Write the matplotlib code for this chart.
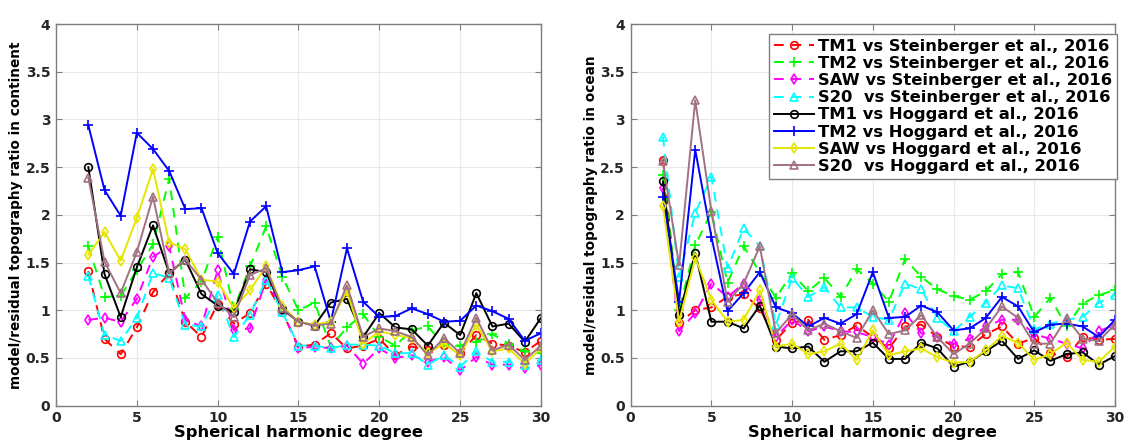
import matplotlib
matplotlib.use("Agg")
import matplotlib.pyplot as plt
import numpy as np

plt.rcParams['font.family'] = ['DejaVu Sans']
plt.rcParams['font.weight'] = 'bold'

degrees = list(range(2, 31))

# ---- continent panel ----
cont_tm1_st = [1.41, 0.70, 0.54, 0.82, 1.19, 1.39, 0.88, 0.72, 1.07, 0.86, 0.97, 1.28, 0.98, 0.62,
               0.64, 0.76, 0.60, 0.63, 0.70, 0.53, 0.62, 0.58, 0.64, 0.55, 0.74, 0.65, 0.63, 0.56, 0.68]
cont_tm2_st = [1.67, 1.14, 1.15, 1.42, 1.69, 2.38, 1.13, 1.30, 1.77, 1.01, 1.46, 1.88, 1.35, 1.00,
               1.08, 0.62, 0.82, 0.96, 0.72, 0.63, 0.79, 0.83, 0.64, 0.63, 0.67, 0.75, 0.65, 0.57, 0.55]
cont_saw_st = [0.90, 0.92, 0.88, 1.12, 1.56, 1.67, 0.90, 0.83, 1.42, 0.79, 0.81, 1.32, 1.00, 0.60,
               0.62, 0.60, 0.63, 0.44, 0.60, 0.50, 0.53, 0.46, 0.51, 0.37, 0.51, 0.43, 0.43, 0.39, 0.43]
cont_s20_st = [1.36, 0.74, 0.68, 0.92, 1.39, 1.34, 0.85, 0.83, 1.16, 0.72, 0.95, 1.32, 0.98, 0.63,
               0.63, 0.60, 0.64, 0.64, 0.63, 0.55, 0.55, 0.43, 0.53, 0.41, 0.57, 0.46, 0.46, 0.43, 0.48]
cont_tm1_ho = [2.50, 1.38, 0.93, 1.45, 1.89, 1.39, 1.53, 1.17, 1.05, 0.98, 1.43, 1.40, 1.01, 0.88,
               0.84, 1.08, 1.12, 0.72, 0.97, 0.82, 0.80, 0.63, 0.87, 0.74, 1.18, 0.83, 0.86, 0.67, 0.92]
cont_tm2_ho = [2.94, 2.26, 1.99, 2.86, 2.69, 2.46, 2.06, 2.07, 1.60, 1.38, 1.93, 2.09, 1.40, 1.42,
               1.46, 0.88, 1.65, 1.09, 0.93, 0.94, 1.02, 0.96, 0.88, 0.89, 1.05, 0.99, 0.91, 0.68, 0.76]
cont_saw_ho = [1.58, 1.82, 1.52, 1.97, 2.48, 1.71, 1.64, 1.32, 1.30, 1.02, 1.21, 1.46, 1.04, 0.88,
               0.85, 0.88, 1.20, 0.65, 0.78, 0.74, 0.71, 0.55, 0.65, 0.53, 0.85, 0.57, 0.60, 0.44, 0.60]
cont_s20_ho = [2.39, 1.51, 1.18, 1.61, 2.19, 1.39, 1.53, 1.32, 1.08, 0.93, 1.37, 1.44, 1.02, 0.88,
               0.84, 0.86, 1.26, 0.72, 0.81, 0.78, 0.72, 0.53, 0.71, 0.55, 0.92, 0.58, 0.64, 0.48, 0.63]

# ---- ocean panel ----
ocean_tm1_st = [2.58, 0.87, 1.00, 1.03, 1.14, 1.17, 1.02, 0.69, 0.87, 0.90, 0.69, 0.74, 0.84, 0.72,
                0.60, 0.83, 0.85, 0.72, 0.62, 0.62, 0.75, 0.83, 0.65, 0.71, 0.55, 0.51, 0.72, 0.69, 0.70]
ocean_tm2_st = [2.42, 1.00, 1.68, 2.03, 1.29, 1.67, 1.40, 1.13, 1.39, 1.20, 1.34, 1.14, 1.43, 1.28,
                1.09, 1.54, 1.35, 1.22, 1.15, 1.11, 1.20, 1.38, 1.40, 0.93, 1.13, 0.83, 1.07, 1.16, 1.21]
ocean_saw_st = [2.28, 0.78, 0.97, 1.28, 1.14, 1.28, 1.11, 0.72, 0.90, 0.78, 0.83, 0.78, 0.77, 0.72,
                0.64, 0.97, 0.76, 0.72, 0.65, 0.70, 0.83, 0.90, 0.90, 0.75, 0.70, 0.65, 0.60, 0.78, 0.85]
ocean_s20_st = [2.82, 1.35, 2.02, 2.40, 1.44, 1.86, 1.67, 0.85, 1.34, 1.14, 1.24, 1.03, 1.03, 0.93,
                0.90, 1.28, 1.22, 0.92, 0.78, 0.93, 1.08, 1.26, 1.23, 0.80, 0.86, 0.90, 0.93, 1.08, 1.16]
ocean_tm1_ho = [2.35, 0.95, 1.60, 0.88, 0.88, 0.81, 1.05, 0.62, 0.60, 0.62, 0.46, 0.57, 0.57, 0.66,
                0.49, 0.49, 0.66, 0.60, 0.41, 0.46, 0.57, 0.68, 0.49, 0.58, 0.47, 0.54, 0.56, 0.43, 0.52]
ocean_tm2_ho = [2.19, 1.09, 2.68, 1.77, 0.99, 1.18, 1.40, 1.03, 0.97, 0.83, 0.92, 0.86, 0.96, 1.40,
                0.92, 0.93, 1.05, 0.98, 0.79, 0.81, 0.92, 1.14, 1.04, 0.77, 0.85, 0.86, 0.83, 0.72, 0.90]
ocean_saw_ho = [2.09, 0.88, 1.55, 1.11, 0.88, 0.90, 1.21, 0.62, 0.65, 0.54, 0.57, 0.65, 0.48, 0.79,
                0.53, 0.57, 0.60, 0.51, 0.45, 0.46, 0.58, 0.73, 0.66, 0.48, 0.54, 0.66, 0.48, 0.46, 0.62]
ocean_s20_ho = [2.56, 1.47, 3.20, 2.04, 1.09, 1.28, 1.67, 0.76, 0.96, 0.79, 0.86, 0.78, 0.71, 1.00,
                0.75, 0.79, 0.95, 0.72, 0.54, 0.65, 0.81, 1.04, 0.92, 0.65, 0.65, 0.92, 0.70, 0.68, 0.85]

labels = ["TM1 vs Steinberger et al., 2016",
          "TM2 vs Steinberger et al., 2016",
          "SAW vs Steinberger et al., 2016",
          "S20  vs Steinberger et al., 2016",
          "TM1 vs Hoggard et al., 2016",
          "TM2 vs Hoggard et al., 2016",
          "SAW vs Hoggard et al., 2016",
          "S20  vs Hoggard et al., 2016"]
colors = ['#ff0000', '#00ff00', '#ff00ff', '#00ffff', '#000000', '#0000ff', '#e6e600', '#a07282']
markers = ['o', '+', 'd', '^', 'o', '+', 'd', '^']
styles = ['--', '--', '--', '--', '-', '-', '-', '-']

xticks = [0, 5, 10, 15, 20, 25, 30]
yticks = [0, 0.5, 1, 1.5, 2, 2.5, 3, 3.5, 4]
ytick_labels = ['0', '0.5', '1', '1.5', '2', '2.5', '3', '3.5', '4']

fig = plt.figure(figsize=(11.27, 4.43), dpi=100)
ax1 = fig.add_axes([0.0497, 0.0842, 0.4303, 0.8616])
ax2 = fig.add_axes([0.5596, 0.0842, 0.4297, 0.8616])

panels = [
    (ax1, [cont_tm1_st, cont_tm2_st, cont_saw_st, cont_s20_st,
           cont_tm1_ho, cont_tm2_ho, cont_saw_ho, cont_s20_ho],
     'model/residual topography ratio in continent'),
    (ax2, [ocean_tm1_st, ocean_tm2_st, ocean_saw_st, ocean_s20_st,
           ocean_tm1_ho, ocean_tm2_ho, ocean_saw_ho, ocean_s20_ho],
     'model/residual topography ratio in ocean'),
]

for ax, series, ylab in panels:
    for vals, c, m, ls, lab in zip(series, colors, markers, styles, labels):
        ms = 5.5 if m != '+' else 7
        ax.plot(degrees, vals, linestyle=ls, color=c, marker=m, markersize=ms,
                markerfacecolor='none', markeredgecolor=c, markeredgewidth=1.2,
                linewidth=1.4, label=lab, dashes=(5, 4) if ls == '--' else (None, None))
    ax.set_xlim(0, 30)
    ax.set_ylim(0, 4)
    ax.set_xticks(xticks)
    ax.set_xticklabels([str(t) for t in xticks], fontsize=10, fontweight='bold')
    ax.set_yticks(yticks)
    ax.set_yticklabels(ytick_labels, fontsize=10, fontweight='bold')
    ax.grid(True, color='#e8e8e8', linewidth=0.8)
    ax.set_axisbelow(True)
    for sp in ax.spines.values():
        sp.set_color('#7f7f7f')
        sp.set_linewidth(1.0)
    ax.tick_params(direction='in', length=4, color='#7f7f7f', top=True, right=True,
                   labelcolor='#262626', pad=4)
    ax.set_xlabel('Spherical harmonic degree', fontsize=11.8, fontweight='bold', labelpad=0)
    ax.set_ylabel(ylab, fontsize=9.8, fontweight='bold', labelpad=2)

leg = ax2.legend(loc='upper right', bbox_to_anchor=(1.004, 0.974), borderaxespad=0,
                 prop={'size': 11.8, 'weight': 'bold'}, labelspacing=0.13,
                 handlelength=2.4, handletextpad=0.25, borderpad=0.3,
                 fancybox=False, framealpha=1, edgecolor='#7f7f7f')
leg.get_frame().set_linewidth(1.0)

fig.savefig('out.png', dpi=100)
